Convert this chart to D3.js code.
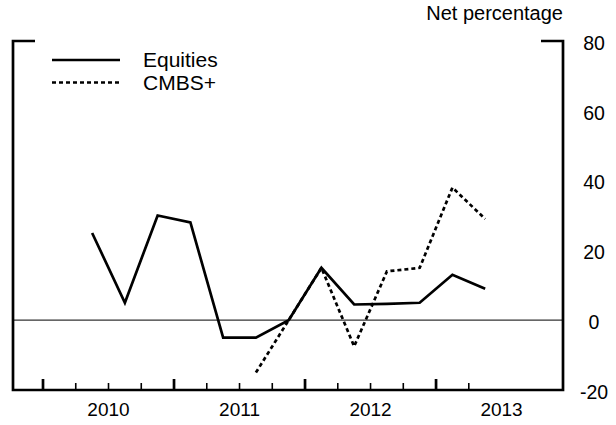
<!DOCTYPE html>
<html>
<head>
<meta charset="utf-8">
<script src="https://cdn.jsdelivr.net/npm/d3@7"></script>
<style>
  body { margin: 0; background: #fff; }
  text { font-family: "Liberation Sans", Arial, sans-serif; fill: #000; }
</style>
</head>
<body>
<div id="chart"></div>
<script>
// quarterly survey readings, plotted at mid-quarter
var quarters = ['2010Q2', '2010Q3', '2010Q4', '2011Q1', '2011Q2', '2011Q3', '2011Q4',
  '2012Q1', '2012Q2', '2012Q3', '2012Q4', '2013Q1', '2013Q2'];
var equities = [25, 5, 30, 28, -5, -5, 0, 15, 4.5, 4.7, 5, 13, 9];
var cmbs = [null, null, null, null, null, -15, 0, 15, -7.5, 14, 15, 38, 29];
var yTicks = [-20, 0, 20, 40, 60, 80];
var yearLabels = [2010, 2011, 2012, 2013];

var width = 616, height = 425;
var margin = {top: 41, right: 53, bottom: 35, left: 13};

var svg = d3.select('#chart').append('svg')
  .attr('width', width)
  .attr('height', height);

function qToYear(q) {
  return +q.slice(0, 4) + (+q.slice(5) - 1) / 4 + 0.125;
}

var x = d3.scaleLinear()
  .domain([2009.771, 2013.969])
  .range([margin.left, width - margin.right]);

var y = d3.scaleLinear()
  .domain([-20, 80])
  .range([height - margin.bottom, margin.top]);

var x0 = x.range()[0], x1 = x.range()[1],
    yb = y.range()[0], yt = y.range()[1];

// zero line
svg.append('line')
  .attr('x1', x0).attr('x2', x1)
  .attr('y1', y(0)).attr('y2', y(0))
  .style('stroke', '#333')
  .style('stroke-width', 1.3);

// frame: left + right verticals, bottom line, short top brackets
var frame = svg.append('g')
  .style('stroke', '#000')
  .style('stroke-width', 2.7)
  .style('fill', 'none');

frame.append('path')
  .attr('d', 'M' + (x0 + 22) + ',' + yt + 'H' + x0 + 'V' + yb + 'H' + x1 + 'V' + yt + 'H' + (x1 - 22));

// quarter ticks on the bottom axis
var tickQ = d3.range(0, 14).map(function(i) { return 2010 + i / 4; });
frame.selectAll('.tick')
  .data(tickQ)
  .enter().append('line')
    .attr('x1', function(d) { return x(d); })
    .attr('x2', function(d) { return x(d); })
    .attr('y1', yb)
    .attr('y2', function(d) { return Number.isInteger(d) ? yb - 11 : yb - 7; })
    .style('stroke-width', function(d) { return Number.isInteger(d) ? 2.7 : 1.6; });

svg.selectAll('.year')
  .data(yearLabels)
  .enter().append('text')
    .attr('x', function(d) { return x(d + 0.5); })
    .attr('y', yb + 26)
    .attr('text-anchor', 'middle')
    .style('font-size', '19px')
    .text(function(d) { return d; });

svg.selectAll('.ylab')
  .data(yTicks)
  .enter().append('text')
    .attr('x', x1 + 31)
    .attr('y', function(d) { return y(d) + 2; })
    .attr('dy', '0.35em')
    .attr('text-anchor', 'middle')
    .style('font-size', '19.5px')
    .text(function(d) { return d; });

svg.append('text')
  .attr('x', x1)
  .attr('y', 20)
  .attr('text-anchor', 'end')
  .style('font-size', '20px')
  .text('Net percentage');

var line = d3.line()
  .defined(function(d) { return d.v != null; })
  .x(function(d) { return x(qToYear(d.q)); })
  .y(function(d) { return y(d.v); });

svg.append('path')
  .datum(quarters.map(function(q, i) { return {q: q, v: equities[i]}; }))
  .attr('d', line)
  .style('fill', 'none')
  .style('stroke', '#000')
  .style('stroke-width', 2.7)
  .style('stroke-linejoin', 'miter');

svg.append('path')
  .datum(quarters.map(function(q, i) { return {q: q, v: cmbs[i]}; }))
  .attr('d', line)
  .style('fill', 'none')
  .style('stroke', '#000')
  .style('stroke-width', 2.7)
  .style('stroke-dasharray', '4,3');

// legend
var legend = svg.append('g');
[{label: 'Equities', dash: null}, {label: 'CMBS+', dash: '4,3'}].forEach(function(s, i) {
  var ly = 60 + i * 22.5;
  legend.append('line')
    .attr('x1', 52).attr('x2', 120)
    .attr('y1', ly).attr('y2', ly)
    .style('stroke', '#000')
    .style('stroke-width', 2.7)
    .style('stroke-dasharray', s.dash);
  legend.append('text')
    .attr('x', 143)
    .attr('y', ly + 7)
    .style('font-size', '21px')
    .text(s.label);
});
</script>
</body>
</html>
